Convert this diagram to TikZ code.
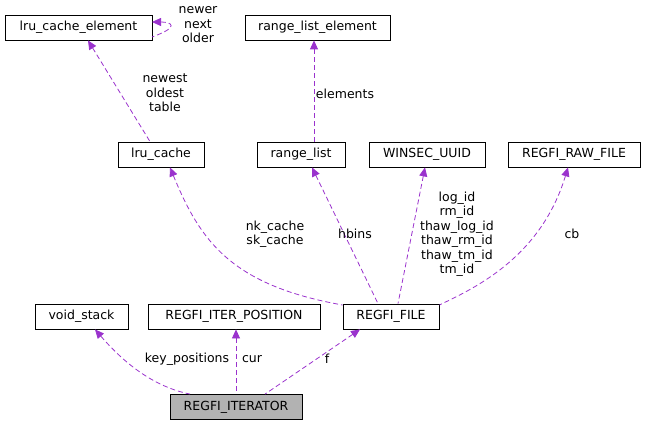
\documentclass[tikz,border=0pt]{standalone}
\usepackage{fontspec}
\setmainfont{DejaVu Sans}
\usetikzlibrary{arrows.meta}
\definecolor{edgepurple}{HTML}{9A32CD}
\begin{document}
\begin{tikzpicture}[x=1pt,y=-1pt,
    cls/.style={draw=black,line width=0.8pt,fill=white,minimum height=25pt,inner sep=0pt,font=\fontsize{12.5}{14.5}\selectfont},
    use/.style={draw=edgepurple,line width=0.8pt,dash pattern=on 5pt off 3pt,{Triangle[length=9pt,width=8pt]}-},
    lbl/.style={font=\fontsize{12.5}{14.5}\selectfont,align=center,inner sep=0pt}]
  \useasboundingbox (0,0) rectangle (647,425);
  % classes
  \node[cls,minimum width=147pt] (lce) at (78.5,27.5) {lru\_cache\_element};
  \node[cls,minimum width=145pt] (rle) at (317.5,27.5) {range\_list\_element};
  \node[cls,minimum width=86pt] (lc) at (161,154.5) {lru\_cache};
  \node[cls,minimum width=88pt] (rl) at (301,154.5) {range\_list};
  \node[cls,minimum width=116pt] (ws) at (427,154.5) {WINSEC\_UUID};
  \node[cls,minimum width=132pt] (raw) at (574,154.5) {REGFI\_RAW\_FILE};
  \node[cls,minimum width=93pt] (vs) at (81.5,316.5) {void\_stack};
  \node[cls,minimum width=172pt] (ip) at (234,316.5) {REGFI\_ITER\_POSITION};
  \node[cls,minimum width=96pt] (rf) at (391,316.5) {REGFI\_FILE};
  \node[cls,minimum width=132pt,fill=black!30] (it) at (236,407) {REGFI\_ITERATOR};
  % usage edges
  \draw[use] (lce.south -| 88,0) -- (lc.north -| 150,0);
  \draw[use] (152,22) .. controls (172,22) and (180,27) .. (152,37);
  \draw[use] (rle.south -| 314,0) -- (rl.north -| 314,0);
  \draw[use] (lc.south -| 170,0) .. controls (200,240) and (230,285) .. (rf.west |- 0,305);
  \draw[use] (rl.south -| 312,0) -- (rf.north -| 378,0);
  \draw[use] (ws.south -| 425,0) -- (rf.north -| 398,0);
  \draw[use] (raw.south -| 568,0) .. controls (540,260) and (470,290) .. (rf.east |- 0,305);
  \draw[use] (vs.south -| 95,0) .. controls (130,370) and (160,388) .. (it.north -| 190,0);
  \draw[use] (ip.south -| 236,0) -- (it.north -| 236,0);
  \draw[use] (rf.south -| 360,0) -- (it.north -| 265,0);
  % labels
  \node[lbl] at (165,93) {newest\\oldest\\table};
  \node[lbl] at (198,25) {newer\\next\\older};
  \node[lbl] at (345,94) {elements};
  \node[lbl] at (275,234) {nk\_cache\\sk\_cache};
  \node[lbl] at (355,234) {hbins};
  \node[lbl] at (457,234) {log\_id\\rm\_id\\thaw\_log\_id\\thaw\_rm\_id\\thaw\_tm\_id\\tm\_id};
  \node[lbl] at (572,234) {cb};
  \node[lbl] at (187,359) {key\_positions};
  \node[lbl] at (252,359) {cur};
  \node[lbl] at (327,359) {f};
\end{tikzpicture}
\end{document}
